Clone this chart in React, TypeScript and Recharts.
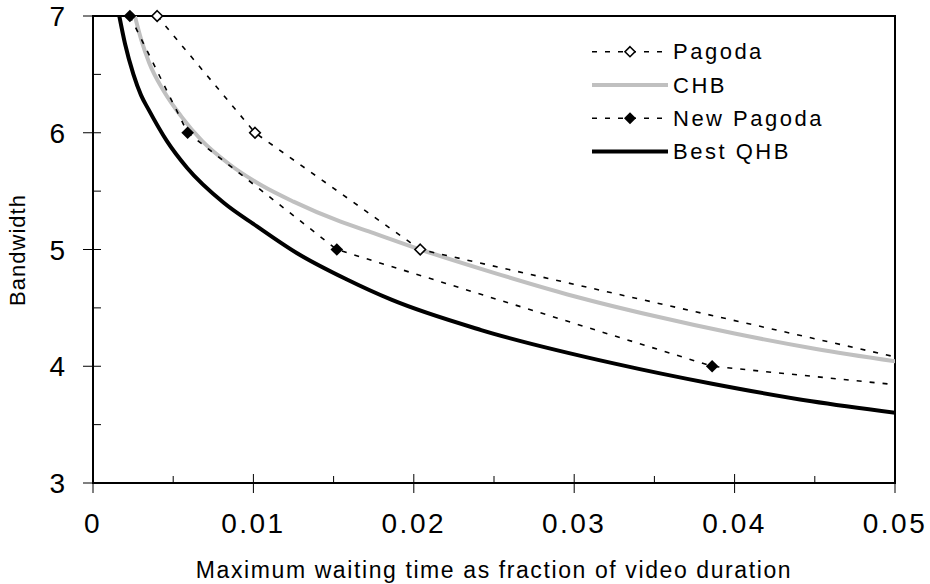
import React from "react"
import { LineChart, Line, XAxis, YAxis, ReferenceArea } from "recharts"

// tick positions
const xTicks = [0, 0.005, 0.01, 0.015, 0.02, 0.025, 0.03, 0.035, 0.04, 0.045, 0.05]
const yTicks = [3, 3.5, 4, 4.5, 5, 5.5, 6, 6.5, 7]

// series (last points fall outside the axis and get clipped)
const pagodaWait = [0.004, 0.0101, 0.0204, 0.0526]
const pagodaBw = [7, 6, 5, 4]
const chbWait = [0.0025, 0.003, 0.0035, 0.0044, 0.0055, 0.0068, 0.0085, 0.0105, 0.0125, 0.0154, 0.0175, 0.0204, 0.025, 0.03, 0.035, 0.04, 0.045, 0.0501]
const chbBw = [7.06, 6.8, 6.6, 6.36, 6.14, 5.93, 5.73, 5.55, 5.41, 5.24, 5.14, 5.0, 4.8, 4.6, 4.43, 4.28, 4.15, 4.04]
const newPagodaWait = [0.0023, 0.0059, 0.0152, 0.0386, 0.111]
const newPagodaBw = [7, 6, 5, 4, 3]
const qhbWait = [0.00164, 0.002, 0.00252, 0.003, 0.00346, 0.0046, 0.00586, 0.00815, 0.0102, 0.0127, 0.0158, 0.0186, 0.0242, 0.0326, 0.0386, 0.0448, 0.0501]
const qhbBw = [7.0, 6.76, 6.5, 6.32, 6.2, 5.93, 5.7, 5.4, 5.2, 4.97, 4.745, 4.57, 4.31, 4.02, 3.85, 3.7, 3.6]

const legendNames = ["Pagoda", "CHB", "New Pagoda", "Best QHB"]

const FONT = "Arial, 'Liberation Sans', Helvetica, sans-serif"

const toPoints = (xs: number[], ys: number[]) => xs.map((x, i) => ({ x, y: ys[i] }))

const pagodaData = toPoints(pagodaWait, pagodaBw)
const chbData = toPoints(chbWait, chbBw)
const newPagodaData = toPoints(newPagodaWait, newPagodaBw)
const qhbData = toPoints(qhbWait, qhbBw)

// markers only where the point is inside the plot
const pagodaMarks = pagodaData.filter(p => p.x <= 0.05)
const newPagodaMarks = newPagodaData.filter(p => p.x <= 0.05)

const diamond = (cx: number, cy: number, r: number) =>
  `M${cx},${cy - r}L${cx + r},${cy}L${cx},${cy + r}L${cx - r},${cy}Z`

function OpenDiamond(props: any) {
  const { cx, cy, index } = props
  if (cx == null || cy == null) return <g key={index} />
  return <path key={index} d={diamond(cx, cy, 5.3)} fill="#fff" stroke="#000" strokeWidth={1.6} />
}

function FilledDiamond(props: any) {
  const { cx, cy, index } = props
  if (cx == null || cy == null) return <g key={index} />
  return <path key={index} d={diamond(cx, cy, 6.3)} fill="#000" stroke="none" />
}

function XTick({ x, y, payload }: any) {
  const v = payload.value
  const major = Math.abs(v * 100 - Math.round(v * 100)) < 1e-6
  return (
    <g>
      <line x1={x} x2={x} y1={major ? y - 9 : y - 7} y2={major ? y + 10 : y} stroke="#000" strokeWidth={1} />
      {major && (
        <text x={x} y={y + 50} textAnchor="middle" fontSize={28} letterSpacing={2.5} fill="#000" fontFamily={FONT}>
          {v === 0 ? "0" : v.toFixed(2)}
        </text>
      )}
    </g>
  )
}

function YTick({ x, y, payload }: any) {
  const v = payload.value
  const major = Number.isInteger(v)
  return (
    <g>
      <line x1={major ? x - 10 : x} x2={x + 8} y1={y} y2={y} stroke="#000" strokeWidth={1} />
      {major && (
        <text x={x - 28} y={y + 10} textAnchor="end" fontSize={28} fill="#000" fontFamily={FONT}>
          {v}
        </text>
      )}
    </g>
  )
}

function ChartLegend() {
  const top = 51.7
  const step = 33.3
  return (
    <g>
      {legendNames.map((name, i) => {
        const y = top + i * step
        const dashed = i === 0 || i === 2
        return (
          <g key={name}>
            <line
              x1={592}
              x2={668}
              y1={y}
              y2={y}
              stroke={i === 1 ? "#c0c0c0" : "#000"}
              strokeWidth={dashed ? 1.6 : 4}
              strokeDasharray={dashed ? "5 8" : undefined}
            />
            {i === 0 && <path d={diamond(630, y, 5)} fill="#fff" stroke="#000" strokeWidth={1.6} />}
            {i === 2 && <path d={diamond(630, y, 6)} fill="#000" />}
            <text x={673} y={y + 7.5} fontSize={22} letterSpacing={2.5} fill="#000" fontFamily={FONT}>
              {name}
            </text>
          </g>
        )
      })}
    </g>
  )
}

export default function App() {
  return (
    <div style={{ position: "absolute", left: 0, top: 0, width: 930, height: 584, background: "#fff" }}>
      <LineChart width={930} height={584} margin={{ top: 16, right: 35, bottom: 0, left: 0 }}>
        <XAxis
          dataKey="x"
          type="number"
          domain={[0, 0.05]}
          ticks={xTicks}
          interval={0}
          allowDataOverflow
          axisLine={false}
          tickLine={false}
          tickSize={0}
          tickMargin={0}
          height={101}
          tick={<XTick />}
        />
        <YAxis
          type="number"
          domain={[3, 7]}
          ticks={yTicks}
          interval={0}
          allowDataOverflow
          axisLine={false}
          tickLine={false}
          tickSize={0}
          tickMargin={0}
          width={93}
          tick={<YTick />}
        />
        <XAxis xAxisId="m" dataKey="x" type="number" domain={[0, 0.05]} ticks={xTicks} hide />
        <YAxis yAxisId="m" type="number" domain={[3, 7]} ticks={yTicks} hide />

        <ReferenceArea x1={0} x2={0.05} y1={3} y2={7} fill="none" stroke="#000" strokeWidth={2} />

        <Line data={chbData} dataKey="y" type="monotone" stroke="#c0c0c0" strokeWidth={4} dot={false} activeDot={false} isAnimationActive={false} />
        <Line data={qhbData} dataKey="y" type="monotone" stroke="#000" strokeWidth={4} dot={false} activeDot={false} isAnimationActive={false} />
        <Line data={pagodaData} dataKey="y" type="linear" stroke="#000" strokeWidth={1.6} strokeDasharray="5 8" dot={false} activeDot={false} isAnimationActive={false} />
        <Line data={newPagodaData} dataKey="y" type="linear" stroke="#000" strokeWidth={1.6} strokeDasharray="5 8" dot={false} activeDot={false} isAnimationActive={false} />

        <Line xAxisId="m" yAxisId="m" data={pagodaMarks} dataKey="y" stroke="none" dot={OpenDiamond} activeDot={false} isAnimationActive={false} />
        <Line xAxisId="m" yAxisId="m" data={newPagodaMarks} dataKey="y" stroke="none" dot={FilledDiamond} activeDot={false} isAnimationActive={false} />

        <ChartLegend />

        <text x={494} y={578} textAnchor="middle" fontSize={23} letterSpacing={1.6} fill="#000" fontFamily={FONT}>
          Maximum waiting time as fraction of video duration
        </text>
        <text x={25} y={250} transform="rotate(-90 25 250)" textAnchor="middle" fontSize={22} letterSpacing={1} fill="#000" fontFamily={FONT}>
          Bandwidth
        </text>
      </LineChart>
    </div>
  )
}
